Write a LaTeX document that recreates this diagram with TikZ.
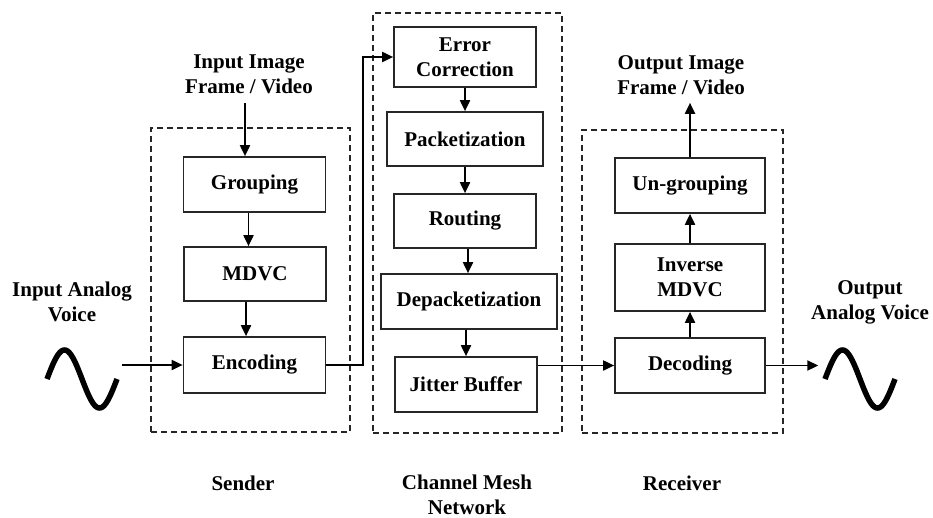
\documentclass[tikz,border=0pt]{standalone}
\usepackage{fontspec}
\setmainfont{Liberation Serif}
\usetikzlibrary{arrows.meta}
\begin{document}
\begin{tikzpicture}[x=1pt,y=-1pt,
 font=\bfseries\fontsize{21}{25}\selectfont,
 blk/.style={draw=black!85, line width=1.7pt, inner sep=0pt, align=center, minimum height=55pt},
 dbox/.style={draw=black!85, dash pattern=on 6pt off 4pt, line width=1.8pt, inner sep=0pt},
 lbl/.style={align=center, inner sep=0pt},
 arr/.style={line width=1.9pt, -{Triangle[length=11pt,width=10pt]}},
 wave/.style={line width=5.5pt},
 hold/.style={inner sep=0pt, minimum width=71pt, minimum height=62pt},
]
\useasboundingbox (0,0) rectangle (933,517);

% dashed groups
\node[dbox, minimum width=199pt, minimum height=304pt] (senderbox) at (250.5,280) {};
\node[dbox, minimum width=189pt, minimum height=420pt] (channelbox) at (467.5,223) {};
\node[dbox, minimum width=201pt, minimum height=303pt] (receiverbox) at (682.5,281.5) {};

% sender blocks
\node[blk, minimum width=142pt] (grouping) at (254.5,184.5) {Grouping};
\node[blk, minimum width=142pt, minimum height=54pt] (mdvc) at (255,274) {MDVC};
\node[blk, minimum width=142pt, minimum height=56pt] (encoding) at (254.5,365) {Encoding};

% channel blocks
\node[blk, minimum width=142pt, minimum height=60pt] (errc) at (465,57) {Error\\Correction};
\node[blk, minimum width=156pt, minimum height=54pt] (pack) at (465,139) {Packetization};
\node[blk, minimum width=142pt, minimum height=54pt] (routing) at (465,221) {Routing};
\node[blk, minimum width=176pt] (depack) at (469,301.5) {Depacketization};
\node[blk, minimum width=142pt] (jitter) at (466,384.5) {Jitter Buffer};

% receiver blocks
\node[blk, minimum width=150pt] (ungroup) at (690,185.5) {Un-grouping};
\node[blk, minimum width=150pt, minimum height=67pt] (invmdvc) at (690,277.5) {Inverse\\MDVC};
\node[blk, minimum width=150pt] (decoding) at (690,365.5) {Decoding};

% labels
\node[lbl] (inimg) at (249,74.5) {Input Image\\Frame / Video};
\node[lbl] (outimg) at (681,75) {Output Image\\Frame / Video};
\node[lbl] (invoice) at (72,301.5) {Input Analog\\Voice};
\node[lbl] (outvoice) at (870,302) {Output\\Analog Voice};
\node[lbl] (sender) at (243,483) {Sender};
\node[lbl] (channel) at (467,494.5) {Channel Mesh\\Network};
\node[lbl] (receiver) at (682,483) {Receiver};

% sine waves
\node[hold] (insine) at (82.5,379) {};
\node[hold] (outsine) at (860,379) {};
\draw[wave] plot[domain=0:360, samples=73, smooth] ({47+\x*0.19444},{379-29*sin(\x)});
\draw[wave] plot[domain=0:360, samples=73, smooth] ({825+\x*0.19444},{379-29*sin(\x)});

% connectors
\draw[arr, shorten <=9pt] ([xshift=-9.5pt]grouping.north |- inimg.south) -- ([xshift=-9.5pt]grouping.north);
\draw[arr] ([xshift=-6pt]grouping.south) -- ([xshift=-6pt]grouping.south |- mdvc.north);
\draw[arr] ([xshift=-9pt]mdvc.south) -- ([xshift=-9pt]mdvc.south |- encoding.north);
\draw[arr, shorten <=4pt] (insine.east |- encoding.west) -- (encoding.west);
\draw[arr] (encoding.east) -- ([xshift=37pt]encoding.east) |- (errc.west);
\draw[arr] (errc.south) -- (pack.north);
\draw[arr] (pack.south) -- (pack.south |- routing.north);
\draw[arr] ([xshift=3pt]routing.south) -- ([xshift=3pt]routing.south |- depack.north);
\draw[arr] ([xshift=-3pt]depack.south) -- ([xshift=-3pt]depack.south |- jitter.north);
\draw[arr] (jitter.east |- decoding.west) -- (decoding.west);
\draw[arr] (decoding.north) -- (invmdvc.south);
\draw[arr] (invmdvc.north) -- (ungroup.north |- ungroup.south);
\draw[arr, shorten >=8pt] (ungroup.north) -- (ungroup.north |- outimg.south);
\draw[arr, shorten >=6pt] (decoding.east) -- (outsine.west |- decoding.east);
\end{tikzpicture}
\end{document}
